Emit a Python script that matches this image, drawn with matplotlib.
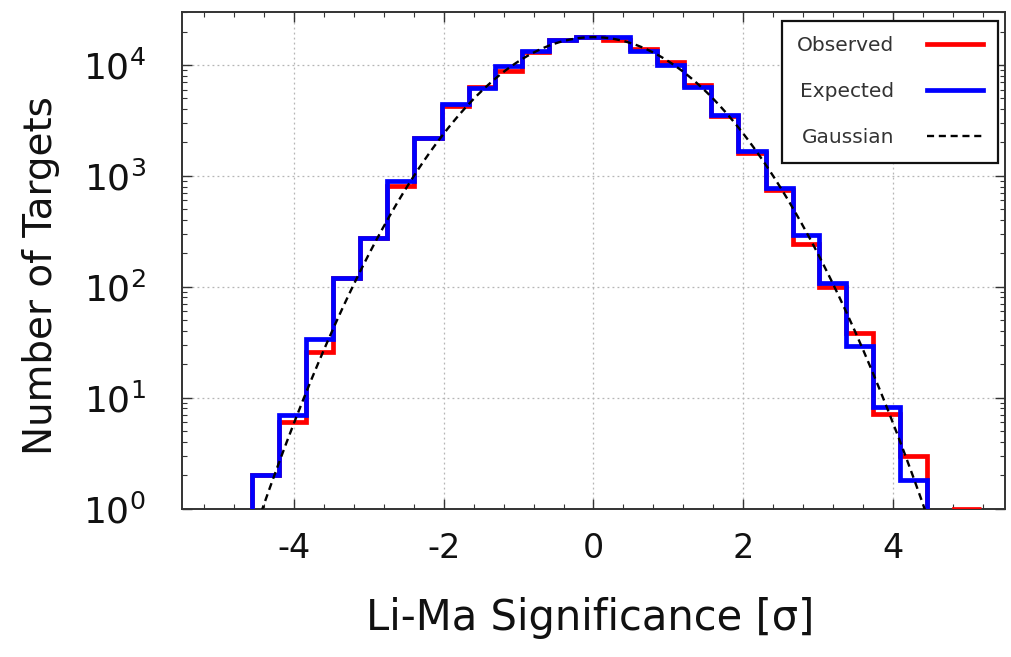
import numpy as np
import matplotlib
matplotlib.use("Agg")
import matplotlib.pyplot as plt
from matplotlib.ticker import MultipleLocator, LogLocator, NullFormatter

# ---- data ----
bin_edges = [-4.92, -4.56, -4.20, -3.84, -3.48, -3.12, -2.76, -2.40, -2.03, -1.67, -1.31,
             -0.95, -0.59, -0.23, 0.13, 0.49, 0.85, 1.21, 1.57, 1.93, 2.30,
             2.66, 3.02, 3.38, 3.74, 4.10, 4.46, 4.82, 5.18]
observed = [0, 2.0, 6.0, 26, 120, 275, 815, 2190, 4230, 6300, 8900,
            13000, 16700, 17750, 16900, 14000, 10550, 6550, 3440, 1600, 750,
            242, 100, 38, 7.1, 3.0, 0, 1]
expected = [0, 2.0, 6.9, 34, 120, 275, 890, 2195, 4475, 6250, 9700,
            13270, 16900, 17750, 17750, 13270, 10070, 6380, 3560, 1660, 780,
            290, 109, 29, 8.3, 1.8, 0, 0]
gauss_amplitude = 17800.0
gauss_sigma = 1.0

labels = ["Observed", "Expected", "Gaussian"]
xticks = [-4, -2, 0, 2, 4]

# ---- figure ----
plt.rcParams['font.family'] = ['DejaVu Sans']
fig = plt.figure(figsize=(10.12, 6.57), dpi=100)
ax = fig.add_axes([182/1012, 1 - 508.5/657, (1005-182)/1012, (508.5-12)/657])

ax.set_yscale('log')
ax.set_xlim(-5.5, 5.5)
ax.set_ylim(1, 3e4)

edges = np.array(bin_edges)
obs = np.array(observed, dtype=float)
exp_ = np.array(expected, dtype=float)

ax.stairs(obs, edges, color='#ff0000', lw=3.4, baseline=None, label=labels[0], zorder=3)
ax.stairs(exp_, edges, color='#0000ff', lw=3.4, baseline=None, label=labels[1], zorder=4)

xg = np.linspace(-5.5, 5.5, 600)
yg = gauss_amplitude * np.exp(-xg**2 / (2 * gauss_sigma**2))
ax.plot(xg, yg, color='black', lw=1.7, ls=(0, (3, 2)), label=labels[2], zorder=5)

# ticks
ax.set_xticks(xticks)
ax.set_xticklabels([str(t) for t in xticks])
ax.xaxis.set_minor_locator(MultipleLocator(0.4))
ax.yaxis.set_major_locator(LogLocator(base=10, numticks=10))
ax.yaxis.set_minor_locator(LogLocator(base=10, subs=np.arange(2, 10), numticks=20))
ax.yaxis.set_minor_formatter(NullFormatter())
ax.tick_params(which='both', direction='in', top=True, right=True, colors='#333333',
               labelcolor='#111111')
ax.tick_params(which='major', length=7, width=1.0)
ax.tick_params(axis='x', which='major', pad=17, labelsize=24)
ax.tick_params(axis='y', which='major', pad=26, labelsize=26)
ax.tick_params(which='minor', length=3.5, width=0.8)

ax.grid(True, which='major', color='#b5b5b5', ls=(0, (1.5, 2.5)), lw=0.9)
for s in ax.spines.values():
    s.set_linewidth(1.4)
    s.set_color('#333333')

ax.set_xlabel('Li-Ma Significance [σ]', fontsize=30, color='#111111')
ax.set_ylabel('Number of Targets', fontsize=28, color='#111111')
ax.xaxis.set_label_coords(0.496, -0.178)
ax.yaxis.set_label_coords(-0.148, 0.47)

leg = ax.legend(loc='upper right', bbox_to_anchor=(998/1012, 1 - 21/657),
                bbox_transform=fig.transFigure, borderaxespad=0,
                markerfirst=False, fontsize=14.5, handlelength=2.8, handletextpad=1.6,
                labelspacing=1.35, borderpad=0.75, fancybox=False, framealpha=1,
                edgecolor='#111111')
leg.get_frame().set_linewidth(1.6)
for t in leg.get_texts():
    t.set_color('#333333')

fig.savefig('out.png', dpi=100)
